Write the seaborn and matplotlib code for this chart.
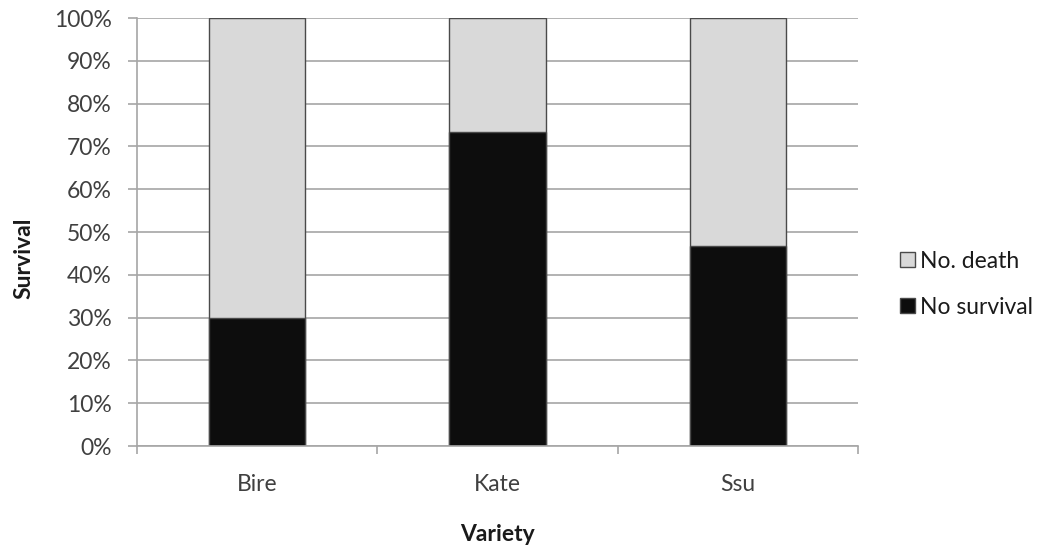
import matplotlib
matplotlib.use("Agg")
import matplotlib.pyplot as plt
from matplotlib.patches import Patch
from matplotlib.ticker import FixedLocator, PercentFormatter
import seaborn as sns
import pandas as pd

varieties = ["Bire", "Kate", "Ssu"]
survival_pct = [30.0, 73.3, 46.7]
death_pct = [70.0, 26.7, 53.3]

series_labels = ["No. death", "No survival"]
y_ticks = [0, 10, 20, 30, 40, 50, 60, 70, 80, 90, 100]

sns.set_theme(style="white")
plt.rcParams["font.family"] = ["Lato", "DejaVu Sans"]

df = pd.DataFrame({
    "Variety": varieties,
    "survival": survival_pct,
    "total": [s + d for s, d in zip(survival_pct, death_pct)],
})

fs = 16.5
text_color = "#404040"

fig = plt.figure(figsize=(10.43, 5.49), dpi=100)
ax = fig.add_axes([0.1313, 0.1876, 0.6913, 0.7794])

grid_color = "#a6a6a6"
ax.set_axisbelow(True)
ax.yaxis.grid(True, color=grid_color, linewidth=1.2)

light = "#d9d9d9"
dark = "#0d0d0d"
edge = "#4a4a4a"

# stacked 100% bars: full column in light grey, survival share in black on top
sns.barplot(data=df, x="Variety", y="total", color=light, width=0.4,
            edgecolor=edge, linewidth=1.0, saturation=1, ax=ax)
sns.barplot(data=df, x="Variety", y="survival", color=dark, width=0.4,
            edgecolor=edge, linewidth=1.0, saturation=1, ax=ax)

ax.set_xlim(-0.5, 2.5)
ax.set_ylim(0, 100)
ax.set_yticks(y_ticks)
ax.yaxis.set_major_formatter(PercentFormatter(decimals=0))

for side in ["top", "right"]:
    ax.spines[side].set_visible(False)
for side in ["left", "bottom"]:
    ax.spines[side].set_color(grid_color)
    ax.spines[side].set_linewidth(1.2)

ax.xaxis.set_minor_locator(FixedLocator([-0.5, 0.5, 1.5, 2.5]))
ax.tick_params(axis="x", which="major", length=0, pad=20, labelsize=fs, labelcolor=text_color)
ax.tick_params(axis="x", which="minor", length=6, width=1.2, color=grid_color, direction="out", bottom=True)
ax.tick_params(axis="y", which="major", length=6.5, width=1.2, color=grid_color, direction="out", left=True,
               pad=11.5, labelsize=fs, labelcolor=text_color)

ax.set_xlabel("Variety", fontsize=fs, fontweight="bold", color="#1a1a1a")
ax.set_ylabel("Survival", fontsize=fs, fontweight="bold", color="#1a1a1a")
ax.xaxis.set_label_coords(0.5, -0.182)
ax.yaxis.set_label_coords(-0.1415, 0.439)

handles = [Patch(facecolor=light, edgecolor=edge, linewidth=1.0),
           Patch(facecolor=dark, edgecolor=edge, linewidth=1.0)]
fig.legend(handles, series_labels, loc="center left", bbox_to_anchor=(900 / 1043, 0.482),
           frameon=False, fontsize=fs, handlelength=0.65, handleheight=0.65,
           handletextpad=0.22, labelspacing=1.09, borderpad=0, borderaxespad=0,
           labelcolor="#1a1a1a")

fig.savefig("out.png", dpi=100, facecolor="white")
